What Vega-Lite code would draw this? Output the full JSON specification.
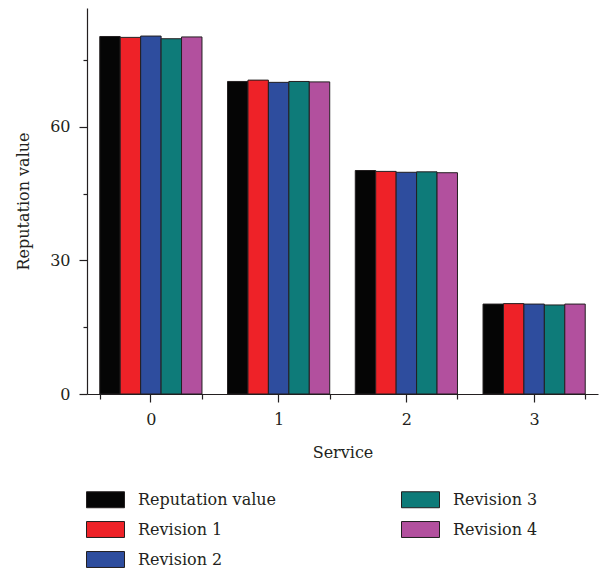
{
  "$schema": "https://vega.github.io/schema/vega-lite/v6.json",
  "width": 511,
  "height": 386,
  "autosize": {"type": "none"},
  "padding": {"left": 87, "top": 8, "right": 16, "bottom": 174},
  "config": {
    "view": {"stroke": null},
    "font": "DejaVu Serif",
    "axis": {
      "domainColor": "#231f20",
      "domainWidth": 1.2,
      "tickColor": "#231f20",
      "tickWidth": 1.2,
      "labelFont": "DejaVu Serif",
      "labelFontSize": 16,
      "labelColor": "#231f20",
      "titleFont": "DejaVu Serif",
      "titleFontSize": 16,
      "titleFontWeight": "normal",
      "titleColor": "#231f20",
      "grid": false
    }
  },
  "data": {
    "values": [
      {"service": "0", "series": "Reputation value", "value": 80.3},
      {"service": "0", "series": "Revision 1", "value": 80.1},
      {"service": "0", "series": "Revision 2", "value": 80.4},
      {"service": "0", "series": "Revision 3", "value": 79.8},
      {"service": "0", "series": "Revision 4", "value": 80.2},
      {"service": "1", "series": "Reputation value", "value": 70.2},
      {"service": "1", "series": "Revision 1", "value": 70.5},
      {"service": "1", "series": "Revision 2", "value": 70.0},
      {"service": "1", "series": "Revision 3", "value": 70.2},
      {"service": "1", "series": "Revision 4", "value": 70.1},
      {"service": "2", "series": "Reputation value", "value": 50.2},
      {"service": "2", "series": "Revision 1", "value": 50.0},
      {"service": "2", "series": "Revision 2", "value": 49.8},
      {"service": "2", "series": "Revision 3", "value": 49.9},
      {"service": "2", "series": "Revision 4", "value": 49.7},
      {"service": "3", "series": "Reputation value", "value": 20.2},
      {"service": "3", "series": "Revision 1", "value": 20.3},
      {"service": "3", "series": "Revision 2", "value": 20.2},
      {"service": "3", "series": "Revision 3", "value": 20.0},
      {"service": "3", "series": "Revision 4", "value": 20.2}
    ]
  },
  "layer": [
    {
      "mark": {"type": "bar", "stroke": "#231f20", "strokeWidth": 1},
      "encoding": {
        "x": {
          "field": "service",
          "type": "nominal",
          "scale": {"paddingInner": 0.2, "paddingOuter": 0.1},
          "axis": {
            "orient": "bottom",
            "tickBand": "extent",
            "tickSize": 5,
            "labelAngle": 0,
            "labelPadding": 12.5,
            "title": "Service",
            "titlePadding": 16.5
          }
        },
        "xOffset": {
          "field": "series",
          "type": "nominal",
          "sort": ["Reputation value", "Revision 1", "Revision 2", "Revision 3", "Revision 4"],
          "scale": {"paddingInner": 0, "paddingOuter": 0}
        },
        "y": {
          "field": "value",
          "type": "quantitative",
          "scale": {"domain": [0, 86.7], "nice": false},
          "axis": {
            "values": [0, 15, 30, 45, 60, 75],
            "tickSize": {"condition": {"test": "datum.value % 30 === 0", "value": 8}, "value": 4},
            "labelExpr": "datum.value % 30 === 0 ? datum.label : ''",
            "labelPadding": 9,
            "title": "Reputation value",
            "titlePadding": 18
          }
        },
        "fill": {
          "field": "series",
          "type": "nominal",
          "scale": {
            "domain": ["Reputation value", "Revision 1", "Revision 2", "Revision 3", "Revision 4"],
            "range": ["#050505", "#ee2228", "#2e4d9e", "#0e7b79", "#b2509e"]
          },
          "legend": {
            "orient": "none",
            "legendX": -1,
            "legendY": 472,
            "columns": 2,
            "symbolType": "M-1,-0.42H1V0.42H-1Z",
            "symbolSize": 1444,
            "symbolStrokeColor": "#231f20",
            "symbolStrokeWidth": 1,
            "symbolOpacity": 1,
            "labelFont": "DejaVu Serif",
            "labelFontSize": 16,
            "labelColor": "#231f20",
            "labelOffset": 13,
            "labelLimit": 300,
            "columnPadding": 122,
            "rowPadding": 0,
            "padding": 0,
            "title": null
          }
        }
      }
    },
    {
      "mark": {"type": "bar", "opacity": 0},
      "encoding": {
        "x": {
          "field": "service",
          "type": "nominal",
          "axis": {
            "orient": "bottom",
            "domain": false,
            "labels": false,
            "tickSize": 8,
            "title": null
          }
        },
        "y": {"field": "value", "type": "quantitative"}
      }
    }
  ],
  "resolve": {"axis": {"x": "independent"}}
}
